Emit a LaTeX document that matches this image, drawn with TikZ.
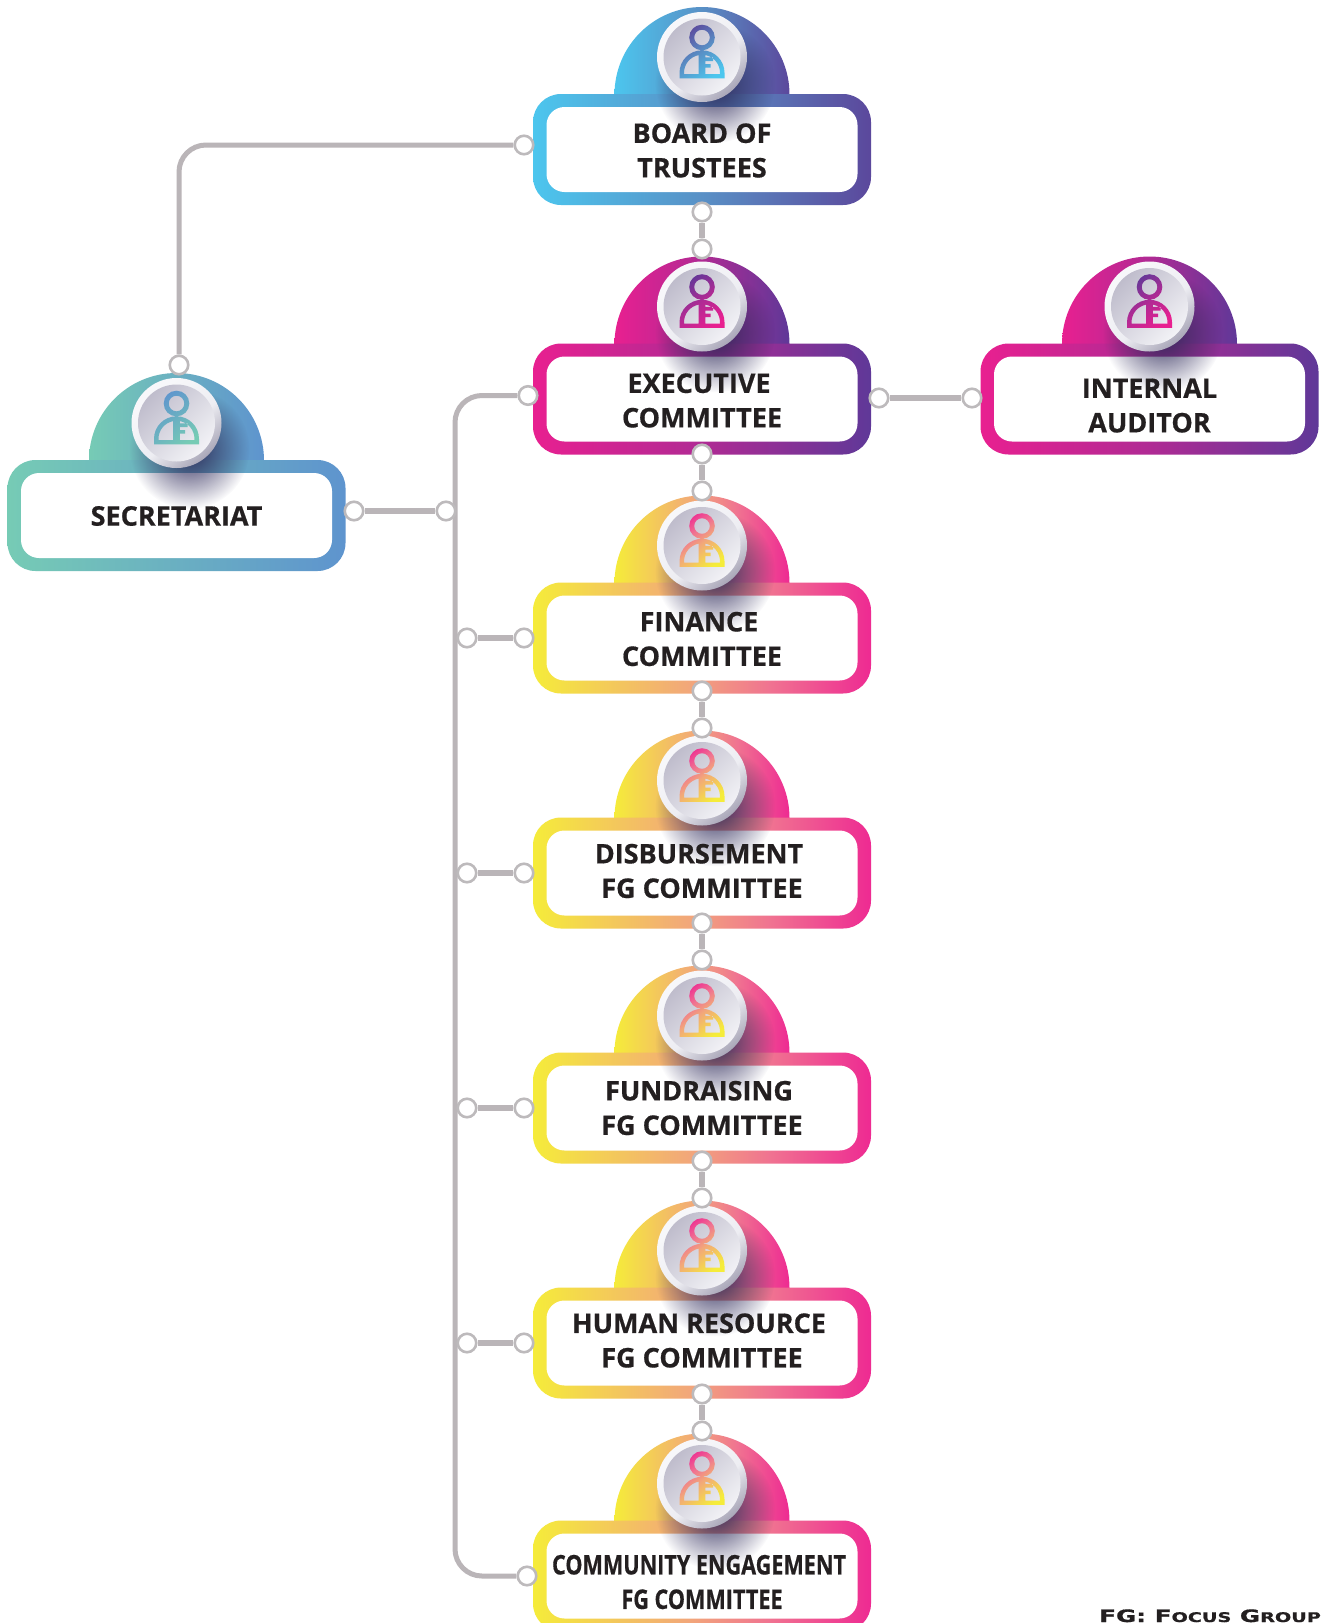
\documentclass[tikz,border=0pt]{standalone}
\usepackage{fontspec}
\usepackage{graphicx}
\usetikzlibrary{fadings}
\setmainfont[BoldFont={* Bold},BoldFeatures={FakeBold=0.6}]{Open Sans}
\newfontfamily\fgfont[BoldFont={* Bold},BoldFeatures={FakeBold=0.8}]{DejaVu Sans}
\definecolor{inkcol}{HTML}{231F20}
\definecolor{linecol}{HTML}{BAB5B8}
\definecolor{ringcol}{HTML}{BDBABC}
\definecolor{shadowcol}{HTML}{2E2A5A}
\pgfdeclarehorizontalshading{palblue}{100bp}{rgb(0bp)=(0.298,0.776,0.933); rgb(25bp)=(0.298,0.776,0.933); rgb(50bp)=(0.349,0.565,0.776); rgb(75bp)=(0.357,0.282,0.612); rgb(100bp)=(0.357,0.282,0.612)}
\pgfdeclarehorizontalshading{palmag}{100bp}{rgb(0bp)=(0.910,0.125,0.565); rgb(25bp)=(0.910,0.125,0.565); rgb(50bp)=(0.690,0.165,0.580); rgb(75bp)=(0.373,0.220,0.596); rgb(100bp)=(0.373,0.220,0.596)}
\pgfdeclarehorizontalshading{palyel}{100bp}{rgb(0bp)=(0.961,0.925,0.227); rgb(25bp)=(0.961,0.925,0.227); rgb(48bp)=(0.949,0.655,0.478); rgb(60bp)=(0.941,0.451,0.569); rgb(75bp)=(0.933,0.165,0.573); rgb(100bp)=(0.933,0.165,0.573)}
\pgfdeclarehorizontalshading{palteal}{100bp}{rgb(0bp)=(0.463,0.796,0.710); rgb(25bp)=(0.463,0.796,0.710); rgb(75bp)=(0.369,0.580,0.808); rgb(100bp)=(0.369,0.580,0.808)}
\pgfdeclarehorizontalshading{rimshade}{100bp}{rgb(0bp)=(0.97,0.97,0.98); rgb(30bp)=(0.97,0.97,0.98); rgb(55bp)=(0.93,0.93,0.95); rgb(75bp)=(0.66,0.65,0.72); rgb(100bp)=(0.66,0.65,0.72)}
\pgfdeclarehorizontalshading{faceshade}{100bp}{rgb(0bp)=(0.75,0.74,0.80); rgb(25bp)=(0.75,0.74,0.80); rgb(75bp)=(0.95,0.95,0.965); rgb(100bp)=(0.95,0.95,0.965)}
\tikzfading[name=softdisc, inner color=transparent!0, outer color=transparent!100]
\pgfdeclarelayer{conn}
\pgfdeclarelayer{pins}
\pgfsetlayers{main,conn,pins}
\tikzset{
  ringbox/.style={shade, shading=#1, rounded corners=28pt, minimum width=338pt, minimum height=111pt, inner sep=0pt, draw=none},
  whitebox/.style={fill=white, rounded corners=18pt, minimum width=311pt, minimum height=85pt, inner sep=0pt, draw=none},
  labeltext/.style={font=\fontsize{27}{34.5}\selectfont\bfseries, text=inkcol, align=center, inner sep=0pt},
  pin/.style={circle, draw=ringcol, line width=2.6pt, fill=white, minimum size=18.5pt, inner sep=0pt},
  link/.style={draw=linecol, line width=5pt},
  stub/.style={draw=linecol, line width=6pt},
}
% id, cx, top, palette, text y, text
\newcommand{\orgunit}[6]{%
  \pgfmathsetmacro{\ul}{#2-87.5}
  \pgfmathsetmacro{\ubc}{#3-37}
  \pgfmathsetmacro{\umy}{#3+55.5}
  \shade[shading=#4] (\ul,#3+0.5) arc[start angle=180,end angle=360,radius=87.5] -- cycle;
  \node[ringbox=#4] (#1) at (#2,\umy) {};
  \node[whitebox] (#1-in) at (#2,\umy) {};
  \fill[shadowcol, path fading=softdisc] (#2+13,\ubc+26) circle[radius=60];
  \begin{scope}[shift={(#2,\ubc)}]
    \shade[shading=rimshade, shading angle=-50] (0,0) circle[radius=45];
    \shade[shading=faceshade, shading angle=-45] (0,0) circle[radius=38.5];
    \begin{scope}[even odd rule]
      \clip
        (0,-19.5) circle[radius=12.8] (0,-19.5) circle[radius=7.8]
        (-22.5,21.3) -- (-22.5,15.8) arc[start angle=180,end angle=360,radius=22.5] -- (22.5,21.3) -- cycle
        (-18,17) -- (-18,15.8) arc[start angle=180,end angle=259,radius=18] -- (-3.4,17) -- cycle
        (3.4,17) -- (3.4,10.5) -- (8.5,10.5) -- (8.5,7) -- (3.4,7) -- (3.4,4) -- (11,4) -- (11,0.3) -- (3.4,0.3) -- (3.4,-1.9) arc[start angle=281,end angle=360,radius=18] -- (18,17) -- cycle;
      \shade[shading=#4, shading angle=128] (-24,-34) rectangle (24,23);
    \end{scope}
  \end{scope}
  \node[labeltext] (#1-text) at (#2,#5) {#6};
}
\begin{document}
\begin{tikzpicture}[x=1pt,y=-1pt]
\useasboundingbox (0,0) rectangle (1328,1623);
\fill[white] (0,0) rectangle (1328,1623);
\orgunit{board}{702}{94}{palblue}{150.5}{BOARD OF\\TRUSTEES}
\orgunit{exec}{702}{343.5}{palmag}{400.5}{EXECUTIVE\kern6pt\\COMMITTEE}
\orgunit{audit}{1149.5}{343.5}{palmag}{405.6}{INTERNAL\\AUDITOR}
\orgunit{secr}{176.5}{460}{palteal}{516}{SECRETARIAT}
\orgunit{fin}{702}{582.5}{palyel}{639}{FINANCE\kern6pt\\COMMITTEE}
\orgunit{disb}{702}{817.5}{palyel}{871}{DISBURSEMENT\kern6pt\\FG COMMITTEE}
\orgunit{fund}{702}{1052.5}{palyel}{1108}{FUNDRAISING\kern6pt\\FG COMMITTEE}
\orgunit{hr}{702}{1287.5}{palyel}{1340.5}{HUMAN RESOURCE\kern6pt\\FG COMMITTEE}
\orgunit{com}{702}{1520.5}{palyel}{1582}{\scalebox{0.8}[1]{COMMUNITY ENGAGEMENT}\kern6pt\\\scalebox{0.8}[1]{FG COMMITTEE}}

\begin{pgfonlayer}{pins}
\foreach \nm/\px/\py in {
  boardL/524/145, boardB/702/212, execT/702/249, execL/528/395.5, execR/879/398, auditL/972/398,
  execB/702/454, finT/702/491, finB/702/691, disbT/702/728, disbB/702/923, fundT/702/960,
  fundB/702/1161, hrT/702/1198, hrB/702/1394, comT/702/1431,
  secT/179/365, secR/354/511, secBus/446/511,
  finBus/467/638, finL/524/638, disbBus/467/873, disbL/524/873, fundBus/467/1108, fundL/524/1108,
  hrBus/467/1343, hrL/524/1343, comL/527/1576}
  \node[pin] (\nm) at (\px,\py) {};
\end{pgfonlayer}

\begin{pgfonlayer}{conn}
\draw[link, rounded corners=27pt] (secT.north) |- (boardL.west);
\coordinate (busTop) at (455,395.5);
\coordinate (busBot) at (455,1576);
\draw[link, rounded corners=27pt] (execL.west) -- (busTop) -- (busBot) -- (comL.west);
\draw[stub] (boardB) -- (execT);
\draw[stub] (execB) -- (finT);
\draw[stub] (finB) -- (disbT);
\draw[stub] (disbB) -- (fundT);
\draw[stub] (fundB) -- (hrT);
\draw[stub] (hrB) -- (comT);
\draw[stub] (execR) -- (auditL);
\draw[stub] (secR) -- (secBus);
\draw[stub] (finBus) -- (finL);
\draw[stub] (disbBus) -- (disbL);
\draw[stub] (fundBus) -- (fundL);
\draw[stub] (hrBus) -- (hrL);
\end{pgfonlayer}

\node[anchor=base west, inner sep=0pt, text=inkcol, font=\fgfont\bfseries\fontsize{18}{18}\selectfont] (fgnote) at (1099,1622) {\scalebox{1.37}[0.95]{FG: F{\fontsize{14}{14}\selectfont OCUS} G{\fontsize{14}{14}\selectfont ROUP}}};
\end{tikzpicture}
\end{document}
